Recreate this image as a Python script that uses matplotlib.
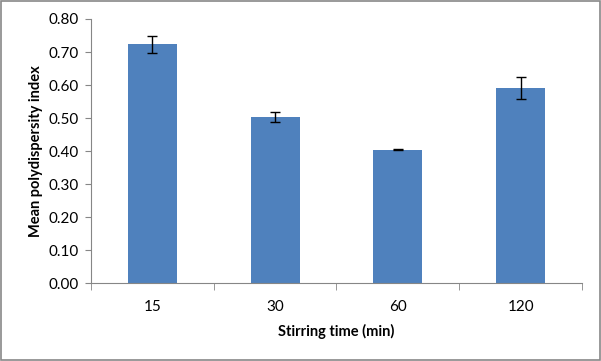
import matplotlib.pyplot as plt
import numpy as np

# Data
times = ["15", "30", "60", "120"]
pdi = [0.724, 0.503, 0.404, 0.591]
pdi_err = [0.026, 0.015, 0.002, 0.033]

plt.rcParams['font.family'] = ['Lato', 'DejaVu Sans']

fig = plt.figure(figsize=(6.01, 3.61), dpi=100)
ax = fig.add_axes([0.1514, 0.2152, 0.8170, 0.7322])

x = np.arange(len(times))
ax.bar(x, pdi, width=0.4, color='#4F81BD', zorder=2)
ax.errorbar(x, pdi, yerr=pdi_err, fmt='none', ecolor='black',
            elinewidth=1, capsize=3.5, capthick=1, zorder=3)

ax.set_xlim(-0.5, len(times) - 0.5)
ax.set_ylim(0, 0.8)
ax.set_yticks(np.arange(0, 0.81, 0.1))
ax.set_yticklabels(["%.2f" % v for v in np.arange(0, 0.81, 0.1)])
ax.set_xticks(x)
ax.set_xticklabels(times)
ax.set_xticks(np.arange(-0.5, len(times), 1.0), minor=True)

ax.tick_params(axis='x', which='major', length=0, pad=12, labelsize=11)
ax.tick_params(axis='x', which='minor', length=5, color='#868686', direction='out')
ax.tick_params(axis='y', length=4, color='#868686', pad=5, labelsize=11)

for s in ['top', 'right']:
    ax.spines[s].set_visible(False)
for s in ['left', 'bottom']:
    ax.spines[s].set_color('#868686')

ax.set_xlabel("Stirring time (min)", fontweight='bold', fontsize=10.5, labelpad=7)
ax.set_ylabel("Mean polydispersity index", fontweight='bold', fontsize=10.5, labelpad=4)

# Grey frame around the whole chart
fig.patches.append(plt.Rectangle((0.001, 0.002), 0.997, 0.996, transform=fig.transFigure,
                                 fill=False, edgecolor='#888888', linewidth=1.2))

plt.savefig('out.png', dpi=100)
